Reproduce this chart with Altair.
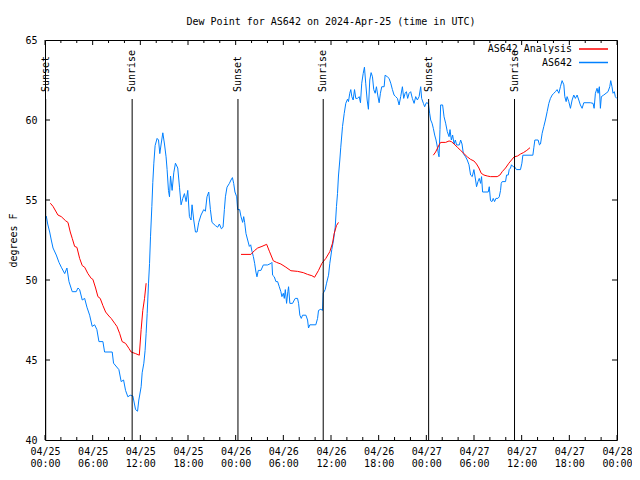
import altair as alt
import pandas as pd

# ---- data (hours after 2024-04-25 00:00 UTC, dew point in degrees F) ----
obs_hours = [0.16, 0.34, 0.59, 0.79, 1.01, 1.42, 1.76, 2.05, 2.48, 2.76, 3.02, 3.43, 3.93, 4.15, 4.36,
             4.69, 4.99, 5.28, 5.62, 5.94, 6.25, 6.53, 6.79, 7.29, 7.50, 8.46, 8.63, 9.30, 9.59, 9.89,
             10.14, 10.43, 10.72, 11.06, 11.40, 11.65, 11.81, 11.90, 12.10, 12.23, 12.44, 12.60, 12.73,
             12.86, 13.03, 13.16, 13.28, 13.45, 13.57, 13.70, 13.86, 14.11, 14.29, 14.45, 14.62, 14.83,
             15.04, 15.24, 15.37, 15.54, 15.67, 15.80, 16.00, 16.21, 16.42, 16.71, 16.93, 17.13, 17.34,
             17.55, 17.76, 17.97, 18.18, 18.38, 18.51, 18.72, 18.94, 19.14, 19.35, 19.64, 19.98, 20.19,
             20.39, 20.61, 20.82, 21.02, 21.45, 21.74, 21.95, 22.20, 22.41, 22.58, 22.71, 22.91, 23.21,
             23.41, 23.59, 23.75, 23.91, 24.13, 24.25, 24.50, 24.67, 24.88, 25.01, 25.13, 25.30, 25.51,
             25.72, 25.89, 26.05, 26.23, 26.39, 26.55, 26.68, 26.85, 27.18, 27.48, 28.02, 28.44, 28.56,
             28.65, 28.86, 29.07, 29.28, 29.49, 29.69, 29.82, 30.00, 30.12, 30.25, 30.41, 30.57, 30.66,
             30.82, 31.16, 31.38, 31.50, 31.79, 31.92, 32.08, 32.26, 32.42, 32.84, 33.05, 33.17, 33.34,
             34.09, 34.31, 34.43, 34.72, 34.93, 35.02, 35.27, 35.44, 35.69, 35.85, 36.10, 36.32, 36.53,
             36.69, 36.82, 36.94, 37.11, 37.23, 37.45, 37.66, 37.86, 38.08, 38.20, 38.36, 38.49, 38.62,
             38.79, 38.96, 39.12, 39.33, 39.55, 39.71, 39.87, 40.05, 40.21, 40.37, 40.55, 40.71, 40.88,
             41.05, 41.22, 41.38, 41.56, 41.72, 41.88, 42.06, 42.22, 42.39, 42.69, 42.81, 43.10, 43.31,
             43.52, 43.73, 43.94, 44.14, 44.36, 44.57, 44.77, 44.99, 45.15, 45.33, 45.49, 45.65, 45.83,
             46.03, 46.24, 46.46, 46.66, 46.87, 47.09, 47.29, 47.41, 47.63, 47.79, 48.00, 48.25, 48.42,
             48.55, 48.72, 48.88, 49.05, 49.22, 49.39, 49.51, 49.60, 49.72, 49.80, 50.05, 50.23, 50.43,
             50.64, 50.86, 50.98, 51.15, 51.31, 51.49, 51.65, 51.81, 52.15, 52.32, 52.49, 52.66, 52.94,
             53.15, 53.37, 53.57, 53.78, 53.99, 54.20, 54.32, 54.50, 54.66, 54.83, 54.95, 55.08, 55.79,
             55.92, 56.08, 56.26, 56.42, 56.59, 56.76, 57.01, 57.18, 57.34, 57.43, 57.55, 57.97, 58.10,
             58.31, 58.43, 58.60, 58.72, 58.93, 59.10, 59.35, 59.85, 60.03, 60.15, 61.41, 61.54, 61.66,
             62.07, 62.24, 62.37, 62.58, 62.79, 62.99, 63.21, 63.42, 63.62, 63.84, 64.05, 64.25, 64.46,
             64.68, 64.88, 65.09, 65.31, 65.43, 65.60, 65.72, 65.93, 66.14, 66.35, 66.56, 66.76, 66.98,
             67.19, 67.39, 67.61, 67.82, 68.65, 68.99, 69.12, 69.28, 69.49, 69.62, 69.78, 69.91, 70.03,
             70.33, 70.62, 70.87, 71.09, 71.21, 71.37, 71.50, 71.66, 71.79, 71.96]
obs_values = [54.0, 53.5, 53.0, 52.5, 52.0, 51.56, 51.1, 50.8, 50.4, 50.75, 49.9, 49.27, 49.27, 49.5, 49.4,
              48.75, 48.85, 48.3, 47.8, 47.1, 47.2, 46.9, 46.15, 46.15, 45.5, 45.5, 44.8, 44.4, 43.65, 43.75,
              43.1, 42.7, 42.8, 42.75, 41.9, 41.8, 42.5, 42.75, 43.33, 44.2, 44.8, 45.6, 46.67,
              47.9, 49.8, 51.04, 52.7, 54.6, 56.1, 57.3, 58.4, 58.85, 58.75, 57.9, 58.5, 59.2,
              58.5, 57.7, 56.9, 55.6, 55.2, 56.5, 55.6, 56.7, 57.3, 57.0, 55.8, 54.7, 55.1,
              55.4, 54.9, 55.6, 53.96, 53.75, 54.7, 53.75, 53.0, 53.0, 53.6, 54.06, 54.4, 54.3,
              55.2, 55.5, 54.4, 53.6, 53.4, 53.3, 53.5, 53.2, 53.3, 54.4, 55.2, 55.8, 56.04,
              56.25, 56.4, 56.04, 55.5, 55.2, 54.4, 54.4, 53.96, 53.6, 53.96, 53.6, 52.9, 52.5,
              52.1, 52.2, 51.8, 51.46, 51.04, 50.5, 50.2, 50.6, 50.6, 50.94, 50.94, 51.04, 51.1,
              50.3, 50.2, 49.9, 49.9, 49.58, 49.27, 48.96, 49.17, 48.85, 49.4, 48.54, 49.27, 49.58,
              48.54, 48.54, 48.75, 48.85, 48.85, 48.54, 47.8, 47.6, 47.8, 47.8, 47.5, 47.0, 47.2,
              47.2, 47.6, 48.1, 48.17, 48.1, 49.17, 49.4, 49.8, 50.3, 51.04, 51.9, 52.5, 53.3,
              54.6, 55.4, 56.5, 57.5, 58.3, 59.6, 60.4, 61.04, 61.3, 61.15, 61.67, 61.9, 61.46,
              61.25, 61.9, 61.35, 61.35, 61.46, 61.08, 62.3, 62.9, 63.3, 62.3, 61.25, 60.67, 62.5,
              62.96, 62.7, 61.9, 61.67, 62.08, 61.56, 61.08, 61.67, 62.08, 62.08, 62.8, 62.7, 62.6,
              62.3, 61.9, 61.56, 61.46, 61.35, 60.94, 61.46, 62.08, 61.35, 61.67, 61.77, 61.35, 61.67,
              61.77, 61.35, 61.04, 61.46, 61.25, 61.46, 62.08, 61.35, 61.04, 60.83, 61.08, 61.04, 60.42,
              60.0, 59.8, 59.48, 59.06, 58.75, 58.3, 57.9, 57.7, 59.4, 60.94, 60.94, 60.2, 59.8,
              59.27, 58.96, 59.4, 58.75, 59.06, 58.5, 58.75, 58.44, 58.44, 58.75, 58.5, 57.9, 57.7,
              57.5, 57.2, 56.56, 56.46, 56.9, 56.25, 55.83, 56.15, 56.35, 56.04, 56.46, 55.5, 55.5,
              55.83, 54.96, 54.9, 55.1, 54.9, 55.1, 55.1, 55.2, 55.6, 56.04, 56.15, 56.15, 56.56,
              56.56, 56.9, 57.0, 57.2, 57.08, 57.08, 56.9, 56.9, 57.3, 57.8, 57.8, 58.3, 58.75,
              58.75, 58.44, 58.5, 59.17, 59.6, 60.0, 60.52, 61.04, 61.35, 61.56, 61.67, 61.77, 61.9,
              61.67, 62.08, 62.46, 62.2, 61.46, 61.15, 61.46, 61.15, 60.73, 61.25, 61.56, 61.35, 61.56,
              61.25, 60.94, 60.73, 61.08, 61.08, 61.04, 60.73, 61.67, 61.98, 61.67, 62.08, 60.73, 61.46,
              61.56, 61.67, 61.77, 62.08, 62.46, 62.08, 61.67, 61.77, 61.46, 61.35]

ana1_hours = [0.67, 1.01, 1.63, 2.05, 2.60, 2.89, 3.18, 3.43, 3.73, 4.02, 4.36, 4.69, 4.99, 5.40, 5.82,
              6.03, 6.37, 6.66, 6.95, 7.29, 7.63, 8.04, 8.33, 8.76, 9.05, 9.39, 9.71, 10.14, 10.56, 10.84,
              11.40, 11.87, 12.10, 12.31, 12.53, 12.73]
ana1_values = [54.8, 54.6, 54.06, 53.96, 53.7, 53.6, 53.0, 52.6, 52.1, 52.04, 51.35, 50.9, 50.8, 50.4, 50.1,
               50.04, 49.5, 48.96, 48.85, 48.4, 48.0, 47.75, 47.6, 47.3, 47.1, 46.67, 46.15, 46.04, 45.73, 45.5,
               45.4, 45.3, 46.9, 48.1, 48.85, 49.8]
ana2_hours = [24.67, 25.92, 26.35, 26.77, 27.31, 27.90, 28.24, 28.74, 29.15, 29.69, 30.32, 30.95, 31.79,
              32.51, 33.05, 33.59, 33.93, 34.43, 34.85, 35.35, 35.85, 36.19, 36.40, 36.69, 36.94]
ana2_values = [51.6, 51.6, 51.83, 52.0, 52.1, 52.23, 51.8, 51.2, 51.1, 51.0, 50.8, 50.58, 50.54,
               50.46, 50.35, 50.27, 50.17, 50.6, 51.04, 51.35, 51.77, 52.3, 52.9, 53.4, 53.6]
ana3_hours = [48.88, 49.17, 49.60, 49.80, 50.43, 50.86, 51.15, 51.49, 51.90, 52.32, 52.74, 53.15, 53.57,
              53.99, 54.32, 54.62, 54.91, 55.25, 55.67, 56.08, 56.92, 57.26, 57.55, 57.97, 58.39, 58.72,
              59.06, 59.48, 59.88, 60.22, 60.64, 61.05]
ana3_values = [57.8, 58.0, 58.44, 58.6, 58.6, 58.69, 58.65, 58.5, 58.3, 58.1, 57.9, 57.7, 57.54,
               57.44, 57.25, 57.0, 56.67, 56.56, 56.5, 56.46, 56.46, 56.56, 56.77, 57.0, 57.3, 57.5,
               57.7, 57.75, 57.88, 57.96, 58.1, 58.27]

sun_events = ["Sunset", "Sunrise", "Sunset", "Sunrise", "Sunset", "Sunrise"]
sun_hours = [0.09, 10.97, 24.29, 35.02, 48.29, 59.10]

series_names = ["AS642 Analysis", "AS642"]
series_colors = ["#ff0000", "#0080ff"]
y_ticks = [45, 50, 55, 60]
x_tick_hours = list(range(0, 73, 2))
title_text = ["Dew Point for AS642 on 2024-Apr-25 (time in UTC)"]

# ---- helpers ----
BASE = pd.Timestamp("2024-04-25 00:00:00")
FONT = "DejaVu Sans Mono"


def ts(hours):
    return [(BASE + pd.to_timedelta(h, unit="h")).strftime("%Y-%m-%dT%H:%M:%SZ") for h in hours]


def dt(h):
    t = BASE + pd.to_timedelta(h, unit="h")
    return alt.DateTime(year=t.year, month=t.month, date=t.day, hours=t.hour, utc=True)


obs_df = pd.DataFrame({"t": ts(obs_hours), "v": obs_values})
ana_df = pd.DataFrame({
    "t": ts(ana1_hours) + ts(ana2_hours) + ts(ana3_hours),
    "v": ana1_values + ana2_values + ana3_values,
    "seg": [1] * len(ana1_hours) + [2] * len(ana2_hours) + [3] * len(ana3_hours),
})
sun_df = pd.DataFrame({"t": ts(sun_hours), "event": sun_events})
xt_df = pd.DataFrame({"t": ts(x_tick_hours), "major": [h % 6 == 0 for h in x_tick_hours]})
yt_df = pd.DataFrame({"v": y_ticks})
title_df = pd.DataFrame({"title": title_text})

W, H = 572, 400

x_enc = alt.X(
    "t:T",
    scale=alt.Scale(type="utc", domain=[dt(0), dt(72)], nice=False),
    axis=alt.Axis(
        values=[dt(h) for h in range(0, 73, 6)],
        labelExpr="[utcFormat(datum.value, '%m/%d'), utcFormat(datum.value, '%H:%M')]",
        ticks=False, domain=False, grid=False, title=None,
        labelPadding=6, labelBaseline="top", labelLineHeight=12,
        labelFont=FONT, labelFontSize=10, labelColor="black",
        labelFlush=False, labelOverlap=False, labelAngle=0,
    ),
)
y_scale = alt.Scale(domain=[40, 65], nice=False, zero=False)
y_enc = alt.Y(
    "v:Q",
    scale=y_scale,
    axis=alt.Axis(
        values=[40, 45, 50, 55, 60, 65], ticks=False, domain=False, grid=False,
        labelPadding=8, labelFont=FONT, labelFontSize=10, labelColor="black",
        title="degrees F", titleFont=FONT, titleFontSize=10, titleFontWeight="normal",
        titleColor="black", titleAngle=270, titleX=-32, titleY=200,
        titleAlign="center", titleBaseline="middle",
    ),
)

obs_line = alt.Chart(obs_df).mark_line(color=series_colors[1], strokeWidth=1).encode(x=x_enc, y=y_enc)
ana_line = alt.Chart(ana_df).mark_line(color=series_colors[0], strokeWidth=1).encode(
    x="t:T", y="v:Q", detail="seg:N")

sun_rules = alt.Chart(sun_df).mark_rule(color="black", strokeWidth=1).encode(
    x="t:T", y=alt.value(59), y2=alt.value(H))
sun_text = alt.Chart(sun_df).mark_text(
    angle=270, align="left", baseline="middle", font=FONT, fontSize=10, color="black"
).encode(x="t:T", y=alt.value(52), text="event:N")

major = alt.datum.major
xt_bot_major = alt.Chart(xt_df).transform_filter(major).mark_rule(color="black").encode(
    x="t:T", y=alt.value(H), y2=alt.value(H - 5))
xt_bot_minor = alt.Chart(xt_df).transform_filter(~major).mark_rule(color="black").encode(
    x="t:T", y=alt.value(H), y2=alt.value(H - 3))
xt_top_major = alt.Chart(xt_df).transform_filter(major).mark_rule(color="black").encode(
    x="t:T", y=alt.value(0), y2=alt.value(5))
xt_top_minor = alt.Chart(xt_df).transform_filter(~major).mark_rule(color="black").encode(
    x="t:T", y=alt.value(0), y2=alt.value(3))
yt_left = alt.Chart(yt_df).mark_rule(color="black").encode(
    y="v:Q", x=alt.value(0), x2=alt.value(5))
yt_right = alt.Chart(yt_df).mark_rule(color="black").encode(
    y="v:Q", x=alt.value(W - 5), x2=alt.value(W))

title_mark = alt.Chart(title_df).mark_text(
    align="center", baseline="alphabetic", font=FONT, fontSize=10, color="black"
).encode(text="title:N", x=alt.value(W / 2), y=alt.value(-15))

leg_df = pd.DataFrame({"name": series_names, "color": series_colors})
leg_layers = []
for i, yy in enumerate([9, 22.5]):
    d = leg_df.iloc[[i]]
    leg_layers.append(
        alt.Chart(d).mark_text(align="right", baseline="middle", font=FONT, fontSize=10, color="black")
        .encode(text="name:N", x=alt.value(527), y=alt.value(yy)))
    leg_layers.append(
        alt.Chart(d).mark_rule(color=series_colors[i], strokeWidth=1.5)
        .encode(x=alt.value(534), x2=alt.value(563), y=alt.value(yy)))

chart = alt.layer(
    obs_line, ana_line, sun_rules, sun_text,
    xt_bot_major, xt_bot_minor, xt_top_major, xt_top_minor, yt_left, yt_right,
    title_mark, *leg_layers,
).properties(
    width=W, height=H,
    autosize=alt.AutoSizeParams(type="none"),
    padding={"left": 37, "top": 32, "right": 15, "bottom": 28},
    background="white",
).configure_view(stroke="black", strokeWidth=1)

chart.save("out.html", embed_options={"renderer": "svg", "actions": False})
